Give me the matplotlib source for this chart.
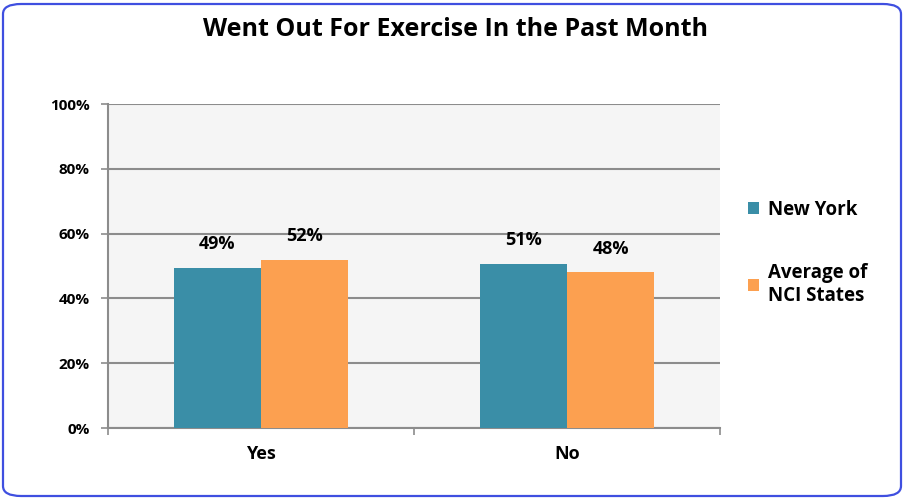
import matplotlib
matplotlib.use("Agg")
import matplotlib.pyplot as plt
from matplotlib.patches import FancyBboxPatch

categories = ["Yes", "No"]
series_names = ["New York", "Average of\nNCI States"]
new_york = [49.4, 50.6]
nci_avg = [52.0, 48.0]
yticks = [0, 20, 40, 60, 80, 100]

teal = "#3A8EA7"
orange = "#FCA050"
grid_c = "#8C8C8C"
font = "Open Sans"

W, H = 905, 499
fig = plt.figure(figsize=(W / 100, H / 100), dpi=100)
fig.patch.set_facecolor("white")

border = FancyBboxPatch((3 / W, 3 / H), 898 / W, 492 / H,
                        boxstyle="round,pad=0,rounding_size=0.02",
                        transform=fig.transFigure, facecolor="none",
                        edgecolor="#3F4FE0", linewidth=1.6, zorder=0)
fig.patches.append(border)

ax = fig.add_axes([108 / W, 1 - 428 / H, (720 - 108) / W, (428 - 104) / H])
ax.set_facecolor("#F5F5F5")

x = list(range(len(categories)))
bw = 0.285
b1 = ax.bar([i - bw / 2 for i in x], new_york, bw, color=teal, zorder=3, label=series_names[0])
b2 = ax.bar([i + bw / 2 for i in x], nci_avg, bw, color=orange, zorder=3, label=series_names[1])

for bars, vals in ((b1, new_york), (b2, nci_avg)):
    for r, v in zip(bars, vals):
        ax.text(r.get_x() + r.get_width() / 2, v + 7.3, f"{round(v)}%",
                ha="center", va="center", fontsize=13, fontweight="bold",
                family=font, color="black", zorder=4)

ax.set_xlim(-0.5, len(categories) - 0.5)
ax.set_ylim(0, 100)
ax.set_yticks(yticks)
ax.set_yticklabels([f"{t}%" for t in yticks], fontsize=11, fontweight="bold", family=font)
ax.yaxis.grid(True, color=grid_c, linewidth=1.5, zorder=1)
ax.set_axisbelow(True)

ax.set_xticks([i - 0.5 for i in range(len(categories) + 1)])
ax.set_xticklabels([])
ax.set_xticks(x, minor=True)
ax.set_xticklabels(categories, minor=True, fontsize=13, fontweight="bold", family=font)
ax.tick_params(axis="x", which="minor", length=0, pad=12)
ax.tick_params(axis="x", which="major", length=5, color=grid_c, width=1.2, direction="out")
ax.tick_params(axis="y", length=5, color=grid_c, width=1.2, direction="out", pad=8)

for s in ("top", "right"):
    ax.spines[s].set_visible(False)
for s in ("left", "bottom"):
    ax.spines[s].set_color(grid_c)
    ax.spines[s].set_linewidth(1.5)

fig.text(455 / W, 1 - 30 / H, "Went Out For Exercise In the Past Month",
         ha="center", va="center", fontsize=18, fontweight="bold", family=font)

leg = fig.legend(handles=[b1, b2], loc="upper left", bbox_to_anchor=(731 / W, 1 - 183 / H),
                 frameon=False, prop={"family": font, "weight": "bold", "size": 13.5},
                 handlelength=0.6, handleheight=0.6, handletextpad=0.5, labelspacing=2.3)

fig.savefig("out.png", dpi=100, facecolor="white")
